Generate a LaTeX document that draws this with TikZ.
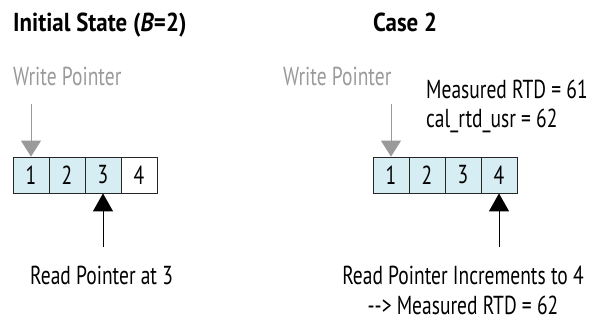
\documentclass[tikz,border=0pt]{standalone}
\usepackage{fontspec}
\setmainfont{PT Sans}[FakeStretch=0.75]
\newfontfamily\ttlfont{PT Sans}[FakeStretch=0.88]
\usetikzlibrary{arrows.meta}
\definecolor{cellblue}{HTML}{D5EDF3}
\definecolor{wgray}{HTML}{9A9A9A}
\tikzset{
  lbl/.style={anchor=base west,inner sep=0pt,font=\fontsize{26}{30}\selectfont},
  ttl/.style={lbl,font=\fontsize{26}{30}\selectfont\ttlfont\bfseries},
  glbl/.style={lbl,text=wgray},
  clbl/.style={anchor=base,inner sep=0pt,font=\fontsize{26}{30}\selectfont},
  cell/.style={draw=black!85,line width=0.8pt,minimum width=36pt,minimum height=36pt,inner sep=0pt,font=\fontsize{26}{30}\selectfont},
  bcell/.style={cell,fill=cellblue},
  wcell/.style={cell,fill=white},
  wp/.style={draw=wgray,line width=1pt,-{Triangle[width=20pt,length=16pt]},wgray},
  rp/.style={draw=black,line width=1pt,-{Triangle[width=20pt,length=18pt]}},
}
\begin{document}
\begin{tikzpicture}[x=1pt,y=-1pt]
\useasboundingbox (0,0) rectangle (595,321);
% left panel
\node[ttl] (t1) at (13,32) {Initial State (\textit{B}=2)};
\node[glbl] (w1) at (13,86) {Write Pointer};
\node[bcell] (a1) at (31,175) {1};
\node[bcell] (a2) at (67,175) {2};
\node[bcell] (a3) at (103,175) {3};
\node[wcell] (a4) at (139,175) {4};
\coordinate (wl) at (31,104);
\coordinate (rl) at (103,247);
\draw[wp] (wl) -- (a1.north);
\draw[rp] (rl) -- (a3.south);
\node[lbl] (r1) at (30,284) {Read Pointer at 3};
% right panel
\node[ttl] (t2) at (373,32) {Case 2};
\node[glbl] (w2) at (283,86) {Write Pointer};
\node[lbl] (m1) at (426,99) {Measured RTD = 61};
\node[lbl] (m2) at (426,128) {cal\_rtd\_usr = 62};
\node[bcell] (b1) at (391,175) {1};
\node[bcell] (b2) at (427,175) {2};
\node[bcell] (b3) at (463,175) {3};
\node[bcell] (b4) at (499,175) {4};
\coordinate (wr) at (391,104);
\coordinate (rr) at (499,247);
\draw[wp] (wr) -- (b1.north);
\draw[rp] (rr) -- (b4.south);
\node[clbl] (r2) at (463,284) {Read Pointer Increments to 4};
\node[clbl] (r3) at (463,314) {-{}-> Measured RTD = 62};
\end{tikzpicture}
\end{document}
